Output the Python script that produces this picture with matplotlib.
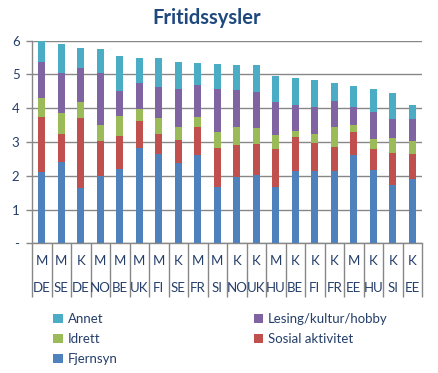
import matplotlib
matplotlib.use("Agg")
import matplotlib.pyplot as plt
import numpy as np

plt.rcParams['font.family'] = ['Lato', 'DejaVu Sans']

# categories: gender (M/K) and country
kjonn = ["M", "M", "K", "M", "M", "M", "M", "K", "M", "M",
         "K", "K", "M", "K", "K", "K", "M", "K", "K", "K"]
land = ["DE", "SE", "DE", "NO", "BE", "UK", "FI", "SE", "FR", "SI",
        "NO", "UK", "HU", "BE", "FI", "FR", "EE", "HU", "SI", "EE"]

# hours per day
fjernsyn = [2.11, 2.41, 1.64, 1.99, 2.20, 2.82, 2.65, 2.38, 2.62, 1.67,
            1.97, 2.02, 1.67, 2.15, 2.15, 2.15, 2.62, 2.17, 1.73, 1.91]
sosial = [1.63, 0.83, 2.07, 1.04, 0.98, 0.80, 0.59, 0.68, 0.83, 1.15,
          0.94, 0.92, 1.12, 1.00, 0.82, 0.70, 0.68, 0.62, 0.95, 0.74]
idrett = [0.56, 0.62, 0.48, 0.47, 0.59, 0.36, 0.47, 0.39, 0.29, 0.48,
          0.54, 0.46, 0.42, 0.18, 0.27, 0.60, 0.20, 0.30, 0.44, 0.38]
lesing = [1.07, 1.18, 1.00, 1.54, 0.74, 0.77, 0.92, 1.12, 0.95, 1.27,
          1.09, 1.08, 0.98, 0.77, 0.80, 0.77, 0.54, 0.80, 0.56, 0.65]
annet = [0.63, 0.86, 0.59, 0.71, 1.04, 0.74, 0.86, 0.80, 0.65, 0.74,
         0.74, 0.80, 0.77, 0.80, 0.80, 0.53, 0.62, 0.68, 0.77, 0.42]

serier = [("Fjernsyn", fjernsyn, "#4F81BD"),
          ("Sosial aktivitet", sosial, "#C0504D"),
          ("Idrett", idrett, "#9BBB59"),
          ("Lesing/kultur/hobby", lesing, "#8064A2"),
          ("Annet", annet, "#4BACC6")]

tekstfarge = "#253F6A"
gridfarge = "#878787"

fig = plt.figure(figsize=(4.38, 3.73), dpi=100)
ax = fig.add_axes([0.0731, 0.3477, 0.8904, 0.5432])

x = np.arange(len(land))
bunn = np.zeros(len(land))
bars = {}
for navn, verdier, farge in serier:
    bars[navn] = ax.bar(x, verdier, width=0.38, bottom=bunn, color=farge,
                        label=navn, zorder=3)
    bunn += np.array(verdier)

ax.set_xlim(-0.5, len(land) - 0.5)
ax.set_ylim(0, 6)
ax.set_yticks(range(7))
ax.set_yticklabels(["-", "1", "2", "3", "4", "5", "6"])
ax.yaxis.grid(True, color=gridfarge, linewidth=1)
ax.set_axisbelow(True)
ax.tick_params(axis='y', colors=gridfarge, labelcolor=tekstfarge,
               labelsize=9.5, length=4, width=1, pad=5)

# category axis with separators
ax.set_xticks(x)
ax.set_xticklabels([])
ax.tick_params(axis='x', which='major', length=0)
ax.set_xticks(np.arange(-0.5, len(land)), minor=True)
ax.tick_params(axis='x', which='minor', length=39, width=1, color=gridfarge)
for i in x:
    ax.text(i, -0.089, kjonn[i], transform=ax.get_xaxis_transform(),
            ha='center', va='center', fontsize=9.5, color=tekstfarge)
    ax.text(i, -0.222, land[i], transform=ax.get_xaxis_transform(),
            ha='center', va='center', fontsize=9.5, color=tekstfarge)

for side in ["top", "right"]:
    ax.spines[side].set_visible(False)
for side in ["left", "bottom"]:
    ax.spines[side].set_color(gridfarge)
    ax.spines[side].set_linewidth(1)

fig.text(0.473, 0.953, "Fritidssysler", ha='center', va='center',
         fontsize=14.5, fontweight='bold', color="#1F497D")

rekkefolge = ["Annet", "Idrett", "Fjernsyn", "Lesing/kultur/hobby", "Sosial aktivitet"]
leg = fig.legend([bars[n] for n in rekkefolge], rekkefolge, ncol=2,
                 loc='upper left', bbox_to_anchor=(0.122, 0.16),
                 frameon=False, fontsize=9.5, handlelength=0.7,
                 handleheight=0.7, handletextpad=0.4, columnspacing=10.3,
                 labelspacing=0.6, borderaxespad=0, borderpad=0)
for t in leg.get_texts():
    t.set_color(tekstfarge)

fig.savefig("out.png", dpi=100)
